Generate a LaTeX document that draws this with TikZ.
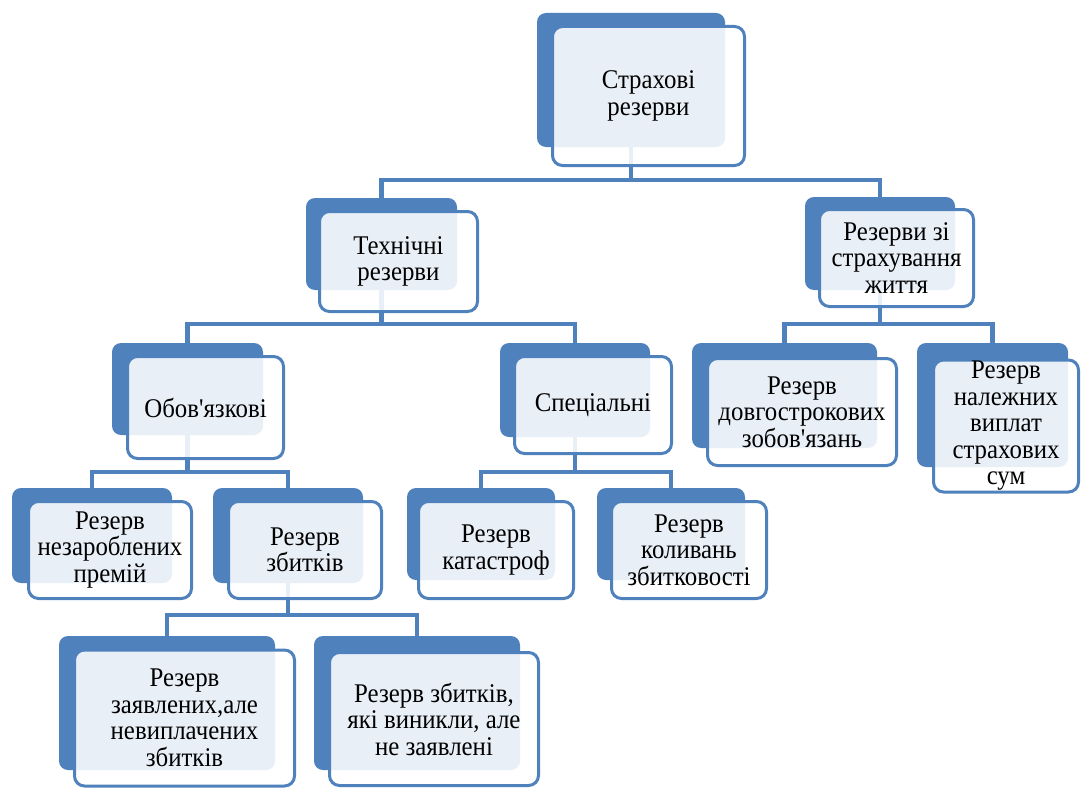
\documentclass[tikz,border=0pt]{standalone}
\usepackage{fontspec}
\setmainfont{Liberation Serif}[Ligatures=TeXOff, FakeStretch=0.92]
\definecolor{sblue}{HTML}{4F81BD}
\tikzset{
  backbox/.style={fill=sblue, rounded corners=9pt, inner sep=0pt, outer sep=0pt},
  frontbox/.style={fill=white, fill opacity=0.88, text opacity=1, draw=sblue, line width=3pt,
    rounded corners=10pt, inner sep=0pt, outer sep=0pt, align=center,
    font=\fontsize{27}{26.5}\selectfont},
  conn/.style={draw=sblue, line width=4.5pt}
}
\begin{document}
\begin{tikzpicture}[x=1pt,y=-1pt]
\useasboundingbox (0,0) rectangle (1082,792);
% back boxes
\node[backbox, minimum width=188, minimum height=134] (rootB) at (631,80) {};
\node[backbox, minimum width=151, minimum height=92] (techB) at (381.5,244) {};
\node[backbox, minimum width=150, minimum height=93] (lifeB) at (880,243.5) {};
\node[backbox, minimum width=151, minimum height=92] (obligB) at (187.5,389) {};
\node[backbox, minimum width=150, minimum height=94] (specB) at (575,390) {};
\node[backbox, minimum width=185, minimum height=105] (longB) at (784.5,395.5) {};
\node[backbox, minimum width=151, minimum height=124] (dueB) at (992.5,405) {};
\node[backbox, minimum width=160, minimum height=95] (unearnedB) at (92,535.5) {};
\node[backbox, minimum width=150, minimum height=95] (lossesB) at (288,535.5) {};
\node[backbox, minimum width=148, minimum height=92] (catB) at (481,534) {};
\node[backbox, minimum width=148, minimum height=92] (fluctB) at (671,534) {};
\node[backbox, minimum width=216, minimum height=134] (claimedB) at (167,703) {};
\node[backbox, minimum width=206, minimum height=134] (ibnrB) at (417,703) {};
% bus coordinates
\coordinate (bus1) at (0,180);
\coordinate (bus2) at (0,324);
\coordinate (bus3) at (0,472);
\coordinate (bus4) at (0,615);
% connectors
\draw[conn] (rootB.south) -- (rootB.south |- bus1);
\draw[conn] (techB.north) |- (bus1 -| lifeB.north) -- (lifeB.north);
\draw[conn] (techB.south) -- (techB.south |- bus2);
\draw[conn] (obligB.north) |- (bus2 -| specB.north) -- (specB.north);
\draw[conn] (lifeB.south) -- (lifeB.south |- bus2);
\draw[conn] (longB.north) |- (bus2 -| dueB.north) -- (dueB.north);
\draw[conn] (obligB.south) -- (obligB.south |- bus3);
\draw[conn] (unearnedB.north) |- (bus3 -| lossesB.north) -- (lossesB.north);
\draw[conn] (specB.south) -- (specB.south |- bus3);
\draw[conn] (catB.north) |- (bus3 -| fluctB.north) -- (fluctB.north);
\draw[conn] (lossesB.south) -- (lossesB.south |- bus4);
\draw[conn] (claimedB.north) |- (bus4 -| ibnrB.north) -- (ibnrB.north);
% front boxes
\node[frontbox, minimum width=192, minimum height=139] (root) at (648.5,96) {Страхові\\резерви};
\node[frontbox, minimum width=158, minimum height=100] (tech) at (398.5,261.5) {Технічні\\резерви};
\node[frontbox, minimum width=154, minimum height=97] (life) at (896.5,258) {Резерви зі\\страхування\\життя};
\node[frontbox, minimum width=156, minimum height=102] (oblig) at (205.5,407.5) {Обов'язкові};
\node[frontbox, minimum width=157, minimum height=97] (spec) at (593,405) {Спеціальні};
\node[frontbox, minimum width=189, minimum height=107] (long) at (802,412) {Резерв\\довгострокових\\зобов'язань};
\node[frontbox, minimum width=145, minimum height=132] (due) at (1006,426) {Резерв\\належних\\виплат\\страхових\\сум};
\node[frontbox, minimum width=163, minimum height=97] (unearned) at (110,550) {Резерв\\незароблених\\премій};
\node[frontbox, minimum width=153, minimum height=97] (losses) at (305,550) {Резерв\\збитків};
\node[frontbox, minimum width=155, minimum height=97] (cat) at (496,550) {Резерв\\катастроф};
\node[frontbox, minimum width=155, minimum height=97] (fluct) at (689,550) {Резерв\\коливань\\збитковості};
\node[frontbox, minimum width=220, minimum height=136] (claimed) at (184.5,718) {Резерв\\заявлених,але\\невиплачених\\збитків};
\node[frontbox, minimum width=209, minimum height=133] (ibnr) at (434,719) {Резерв збитків,\\які виникли, але\\не заявлені};
\end{tikzpicture}
\end{document}
